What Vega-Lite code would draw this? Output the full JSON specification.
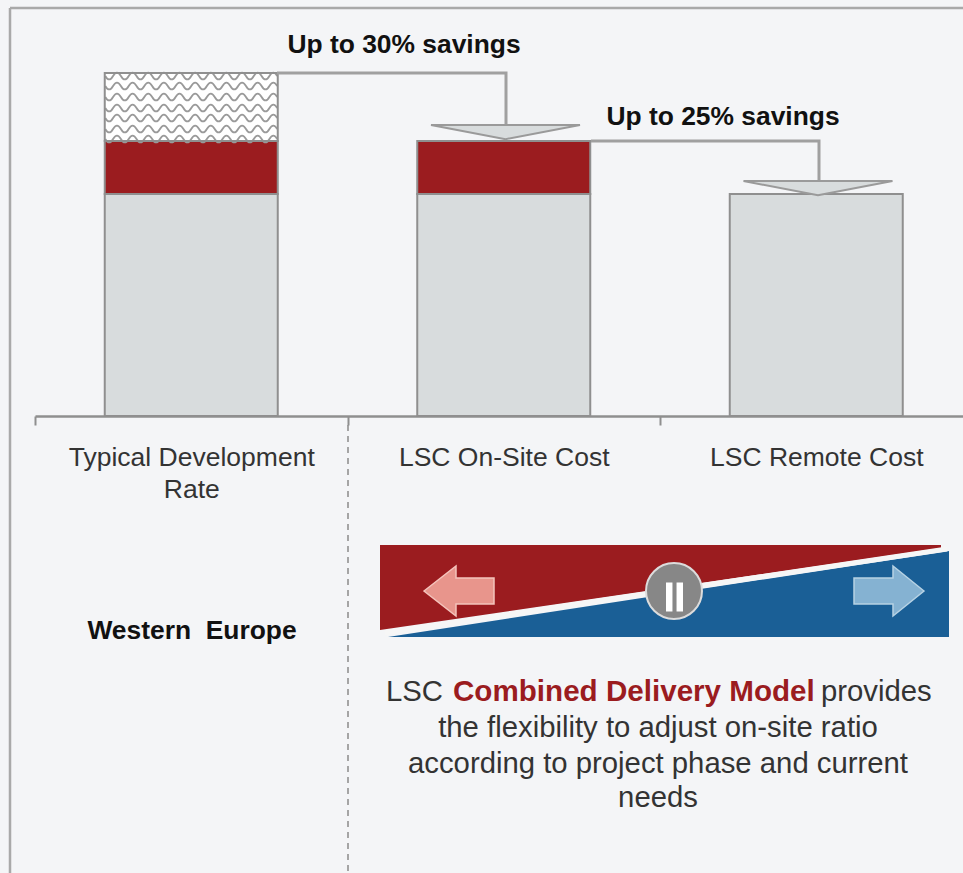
{"$schema":"https://vega.github.io/schema/vega-lite/v6.json","width":963,"height":873,"padding":0,"autosize":{"type":"none"},"background":"#f4f5f7","config":{"view":{"stroke":null}},
"datasets":{
"segments":[
{"category":"Typical Development Rate","segment":"Base cost","y":0,"y2":222},
{"category":"Typical Development Rate","segment":"On-site premium","y":222,"y2":275},
{"category":"Typical Development Rate","segment":"Extra savings","y":275,"y2":343},
{"category":"LSC On-Site Cost","segment":"Base cost","y":0,"y2":222},
{"category":"LSC On-Site Cost","segment":"On-site premium","y":222,"y2":275},
{"category":"LSC Remote Cost","segment":"Base cost","y":0,"y2":222}],
"hatch":[{"category":"Typical Development Rate","y":340},{"category":"Typical Development Rate","y":330},{"category":"Typical Development Rate","y":319},{"category":"Typical Development Rate","y":308},{"category":"Typical Development Rate","y":298},{"category":"Typical Development Rate","y":287},{"category":"Typical Development Rate","y":277}],
"connectors":[{"leg":"a","x":277,"y":343},{"leg":"a","x":506,"y":343},{"leg":"a","x":506,"y":291},{"leg":"b","x":591,"y":275},{"leg":"b","x":819,"y":275},{"leg":"b","x":819,"y":235}],
"wedges":[{"x":505.5,"y":291},{"x":818,"y":235}],
"vrules":[{"x":10,"y":408,"y2":-457},{"x":348,"y":-9,"y2":-457}],
"hrules":[{"x":10,"x2":963,"y":408}],
"redband":[{"x":380,"y":-129,"y2":-214},{"x":941,"y":-129,"y2":-132}],
"blueband":[{"x":388,"y":-221,"y2":-221},{"x":949,"y":-135,"y2":-221}],
"split":[{"x":385,"y":-217},{"x":947,"y":-133}],
"dial":[{"x":674,"y":-175}],
"pause":[{"x":674.5,"y":-181}],
"leftArrow":[{"x":459,"y":-175}],
"rightArrow":[{"x":889,"y":-175}],
"bold":[{"label":"Up to 30% savings","x":404,"y":371},{"label":"Up to 25% savings","x":723,"y":299},{"label":"Western\u00a0\u00a0Europe","x":192,"y":-215}],
"body":[{"label":"the flexibility to adjust on-site ratio","x":658,"y":-312},{"label":"according to project phase and current","x":658,"y":-348},{"label":"needs","x":658,"y":-382}],
"bodyStart":[{"label":"LSC","x":386,"y":-276},{"label":"provides","x":821,"y":-276}],
"accent":[{"label":"Combined Delivery Model","x":453,"y":-276}]
},
"encoding":{"y":{"field":"y","type":"quantitative","scale":{"domain":[-457,416],"zero":false,"nice":false},"axis":null}},
"layer":[
{"encoding":{"x":{"field":"category","type":"nominal","sort":null,"title":null,"scale":{"domain":["Typical Development Rate","LSC On-Site Cost","LSC Remote Cost"],"range":[35,972.5],"paddingInner":0,"paddingOuter":0},"axis":{"orient":"bottom","offset":-457,"tickBand":"extent","tickSize":9,"tickColor":"#8f8f8f","tickWidth":2,"domainColor":"#8f8f8f","domainWidth":2.5,"grid":false,"labelAngle":0,"labelFont":"Liberation Sans","labelFontSize":26.5,"labelColor":"#333333","labelPadding":32,"labelLineHeight":32,"labelLimit":400,"labelBaseline":"middle","labelOverlap":false,"labelExpr":"datum.label=='Typical Development Rate'?['Typical Development','Rate']:datum.label"}}},
"layer":[
{"data":{"name":"segments"},"mark":{"type":"bar","width":173},"encoding":{"y2":{"field":"y2"},"color":{"field":"segment","type":"nominal","legend":null,"scale":{"domain":["Base cost","On-site premium","Extra savings"],"range":["#d8dcdd","#9b1c1f","#ffffff"]}}}},
{"data":{"name":"hatch"},"mark":{"type":"point","shape":"M-1 0q.0455 .08 .0909 0q.0455 -.08 .0909 0q.0455 .08 .0909 0q.0455 -.08 .0909 0q.0455 .08 .0909 0q.0455 -.08 .0909 0q.0455 .08 .0909 0q.0455 -.08 .0909 0q.0455 .08 .0909 0q.0455 -.08 .0909 0q.0455 .08 .0909 0q.0455 -.08 .0909 0q.0455 .08 .0909 0q.0455 -.08 .0909 0q.0455 .08 .0909 0q.0455 -.08 .0909 0q.0455 .08 .0909 0q.0455 -.08 .0909 0q.0455 .08 .0909 0q.0455 -.08 .0909 0q.0455 .08 .0909 0q.0455 -.08 .0909 0","size":29584,"filled":false,"stroke":"#9a9a9a","strokeWidth":1.8,"opacity":1}},
{"data":{"name":"segments"},"mark":{"type":"bar","width":173,"fillOpacity":0,"stroke":"#8f8f8f","strokeWidth":2},"encoding":{"y2":{"field":"y2"}}}
]},
{"encoding":{"x":{"field":"x","type":"quantitative","scale":{"domain":[0,963],"zero":false,"nice":false},"axis":null}},
"layer":[
{"data":{"name":"hrules"},"mark":{"type":"rule","stroke":"#a9a9a9","strokeWidth":2.5},"encoding":{"x2":{"field":"x2"}}},
{"data":{"name":"vrules"},"transform":[{"filter":"datum.x<100"}],"mark":{"type":"rule","stroke":"#a9a9a9","strokeWidth":2.5},"encoding":{"y2":{"field":"y2"}}},
{"data":{"name":"vrules"},"transform":[{"filter":"datum.x>100"}],"mark":{"type":"rule","stroke":"#8a8a8a","strokeWidth":1.5,"strokeDash":[6,5]},"encoding":{"y2":{"field":"y2"}}},
{"data":{"name":"connectors"},"mark":{"type":"line","stroke":"#a0a0a0","strokeWidth":3,"strokeJoin":"miter"},"encoding":{"detail":{"field":"leg"}}},
{"data":{"name":"wedges"},"mark":{"type":"point","shape":"M-1 0L1 0L0 .19Z","size":22201,"filled":true,"fill":"#d8dcdd","stroke":"#9a9a9a","strokeWidth":2,"opacity":1}},
{"data":{"name":"redband"},"mark":{"type":"area","fill":"#9b1c1f"},"encoding":{"y2":{"field":"y2"}}},
{"data":{"name":"blueband"},"mark":{"type":"area","fill":"#1a5f96"},"encoding":{"y2":{"field":"y2"}}},
{"data":{"name":"split"},"mark":{"type":"line","stroke":"#f6f6f6","strokeWidth":5}},
{"data":{"name":"dial"},"mark":{"type":"point","shape":"circle","size":3136,"filled":true,"fill":"#878787","stroke":"#dcdcdc","strokeWidth":2,"opacity":1}},
{"data":{"name":"pause"},"mark":{"type":"point","shape":"M-1 -1.7L-.24 -1.7L-.24 1.7L-1 1.7ZM.24 -1.7L1 -1.7L1 1.7L.24 1.7Z","size":289,"filled":true,"fill":"#ffffff","strokeWidth":0,"opacity":1}},
{"data":{"name":"leftArrow"},"mark":{"type":"point","shape":"M-1 0L-.086 -.714L-.086 -.371L1 -.371L1 .371L-.086 .371L-.086 .714Z","size":4900,"filled":true,"fill":"#e8958c","stroke":"#f4c4bc","strokeWidth":1.5,"opacity":1}},
{"data":{"name":"rightArrow"},"mark":{"type":"point","shape":"M1 0L.114 -.714L.114 -.371L-1 -.371L-1 .371L.114 .371L.114 .714Z","size":4900,"filled":true,"fill":"#85b2d2","stroke":"#b6d2e4","strokeWidth":1.5,"opacity":1}},
{"data":{"name":"bold"},"mark":{"type":"text","font":"Liberation Sans","fontSize":26.4,"fontWeight":"bold","fill":"#111111","align":"center","baseline":"middle"},"encoding":{"text":{"field":"label"}}},
{"data":{"name":"body"},"mark":{"type":"text","font":"Liberation Sans","fontSize":29.3,"fill":"#333333","align":"center","baseline":"middle"},"encoding":{"text":{"field":"label"}}},
{"data":{"name":"bodyStart"},"mark":{"type":"text","font":"Liberation Sans","fontSize":29.3,"fill":"#333333","align":"left","baseline":"middle"},"encoding":{"text":{"field":"label"}}},
{"data":{"name":"accent"},"mark":{"type":"text","font":"Liberation Sans","fontSize":29.6,"fontWeight":"bold","fill":"#9b1c1f","align":"left","baseline":"middle"},"encoding":{"text":{"field":"label"}}}
]}
],
"resolve":{"scale":{"x":"independent"},"axis":{"x":"independent"}}}
